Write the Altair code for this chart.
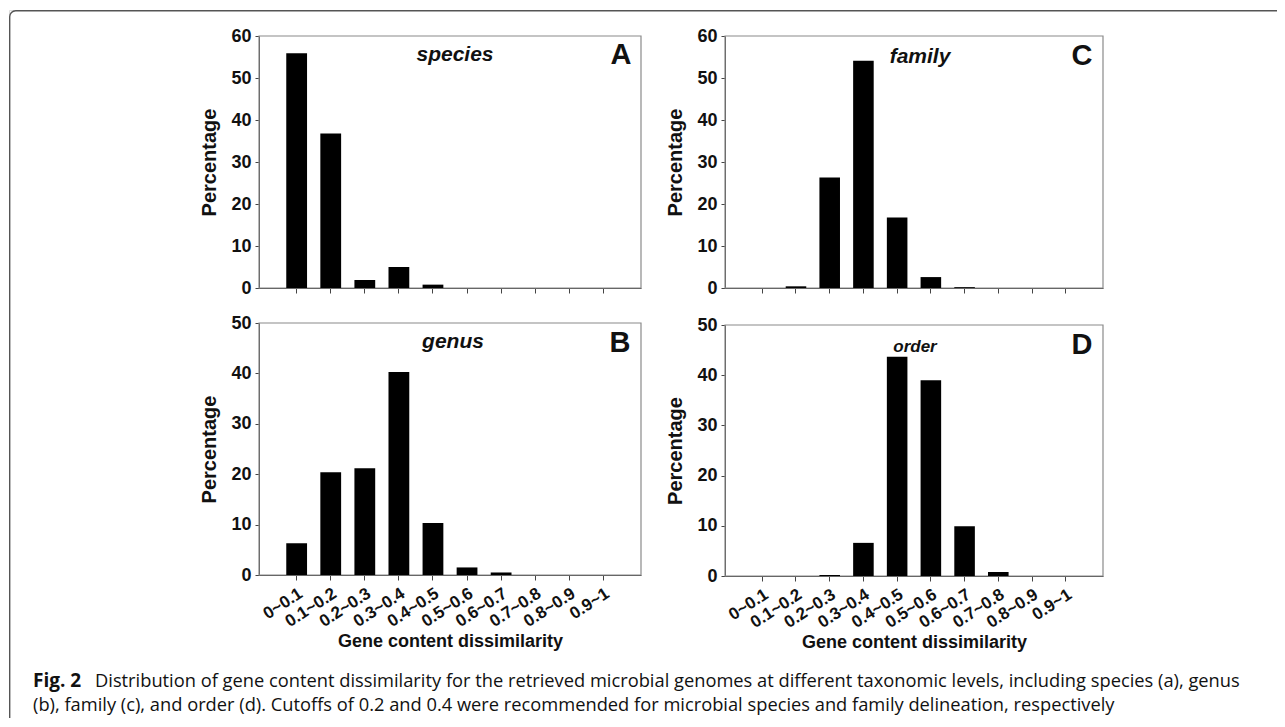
import altair as alt
import pandas as pd

# ---- data ----
categories = ["0~0.1", "0.1~0.2", "0.2~0.3", "0.3~0.4", "0.4~0.5",
              "0.5~0.6", "0.6~0.7", "0.7~0.8", "0.8~0.9", "0.9~1"]
species_pct = [55.9, 36.8, 1.9, 5.0, 0.8, 0, 0, 0, 0, 0]
genus_pct = [6.3, 20.4, 21.2, 40.3, 10.3, 1.5, 0.5, 0, 0, 0]
family_pct = [0, 0.4, 26.3, 54.1, 16.8, 2.6, 0.2, 0, 0, 0]
order_pct = [0, 0, 0.2, 6.6, 43.7, 39.0, 9.9, 0.8, 0, 0]

caption_bold = "Fig. 2"
caption_line1 = ("Distribution of gene content dissimilarity for the retrieved microbial genomes "
                 "at different taxonomic levels, including species (a), genus")
caption_line2 = ("(b), family (c), and order (d). Cutoffs of 0.2 and 0.4 were recommended for "
                 "microbial species and family delineation, respectively")

FONT = "Liberation Sans, Arial, Helvetica, sans-serif"
CAPFONT = "Open Sans, Segoe UI, sans-serif"
W, H = 1268, 708
AX = "#444444"
TXT = "#111111"


def text_layer(s, x, y, size, weight="bold", style="normal", font=FONT, align="center",
               baseline="middle"):
    return alt.Chart(pd.DataFrame({"t": [s]})).mark_text(
        font=font, fontSize=size, fontWeight=weight, fontStyle=style, color=TXT,
        align=align, baseline=baseline).encode(text="t:N", x=alt.value(x), y=alt.value(y))


def panel(values, box, ymax, bottom_labels):
    x0, x1, top, bottom = box
    df = pd.DataFrame({"cat": categories, "pct": values})
    if bottom_labels:
        xaxis = alt.Axis(orient="bottom", offset=bottom - H, labelAngle=327,
                         labelAlign="right", labelBaseline="top",
                         labelFontSize=17, labelFontWeight="bold", labelColor=TXT,
                         labelPadding=5, tickSize=5, tickColor=AX, domainColor=AX,
                         title="Gene content dissimilarity", titleFontSize=18,
                         titleFontWeight="bold", titleColor=TXT, titlePadding=3,
                         labelFont=FONT, titleFont=FONT)
    else:
        xaxis = alt.Axis(orient="bottom", offset=bottom - H, labels=False, title=None,
                         tickSize=5, tickColor=AX, domainColor=AX)
    yaxis = alt.Axis(orient="left", offset=-x0, values=list(range(0, ymax + 1, 10)),
                     tickSize=4, tickColor=AX, domainColor=AX, grid=False,
                     labelFontSize=18, labelFontWeight="bold", labelColor=TXT,
                     labelPadding=4, labelFont=FONT,
                     title="Percentage", titleFontSize=20, titleFontWeight="bold",
                     titleColor=TXT, titlePadding=11, titleFont=FONT)
    frame = alt.Chart(pd.DataFrame({"t": [0]})).mark_rect(
        filled=False, stroke="#8a8a8a", strokeWidth=1.2).encode(
        x=alt.value(x0), x2=alt.value(x1), y=alt.value(top), y2=alt.value(bottom))
    bars = alt.Chart(df).mark_bar(color="black").encode(
        x=alt.X("cat:N", sort=categories, axis=xaxis,
                scale=alt.Scale(range=[x0, x1], paddingInner=0.39, paddingOuter=0.8)),
        y=alt.Y("pct:Q", axis=yaxis,
                scale=alt.Scale(domain=[0, ymax], nice=False, range=[bottom, top])),
    )
    return frame, bars


# plot-area boxes (left, right, top, bottom) in view pixels
boxA = (250, 632, 26, 278)
boxB = (250, 632, 313, 565)
boxC = (716, 1094, 26, 278)
boxD = (716, 1094, 315, 566)

fA, bA = panel(species_pct, boxA, 60, False)
fB, bB = panel(genus_pct, boxB, 50, True)
fC, bC = panel(family_pct, boxC, 60, False)
fD, bD = panel(order_pct, boxD, 50, True)

annotations = [
    text_layer("species", 446, 45, 21, style="italic"),
    text_layer("A", 612, 45, 29),
    text_layer("genus", 444, 332, 21, style="italic"),
    text_layer("B", 611, 333, 29),
    text_layer("family", 911, 47, 21, style="italic"),
    text_layer("C", 1073, 46, 29),
    text_layer("order", 906, 337, 17, style="italic"),
    text_layer("D", 1073, 335, 29),
]

outer = alt.Chart(pd.DataFrame({"t": [0]})).mark_rect(
    filled=False, stroke="#555555", strokeWidth=1.4, cornerRadius=6, clip=True).encode(
    x=alt.value(0.7), x2=alt.value(W + 20), y=alt.value(0.7), y2=alt.value(H + 20))

caption = [
    text_layer(caption_bold, 24, 677, 19, font=CAPFONT, align="left", baseline="alphabetic"),
    text_layer(caption_line1, 86, 677, 18.3, weight="normal", font=CAPFONT, align="left",
               baseline="alphabetic"),
    text_layer(caption_line2, 24, 701, 18.3, weight="normal", font=CAPFONT, align="left",
               baseline="alphabetic"),
]

chart = alt.layer(outer, fA, fB, fC, fD, bA, bB, bC, bD, *annotations, *caption).resolve_scale(
    x="independent", y="independent").resolve_axis(
    x="independent", y="independent").properties(
    width=W, height=H, padding={"left": 1, "top": 2, "right": 0, "bottom": 0}
).configure_view(stroke="transparent").configure(font=FONT)

chart.save("out.html", embed_options={"renderer": "svg", "actions": False})
